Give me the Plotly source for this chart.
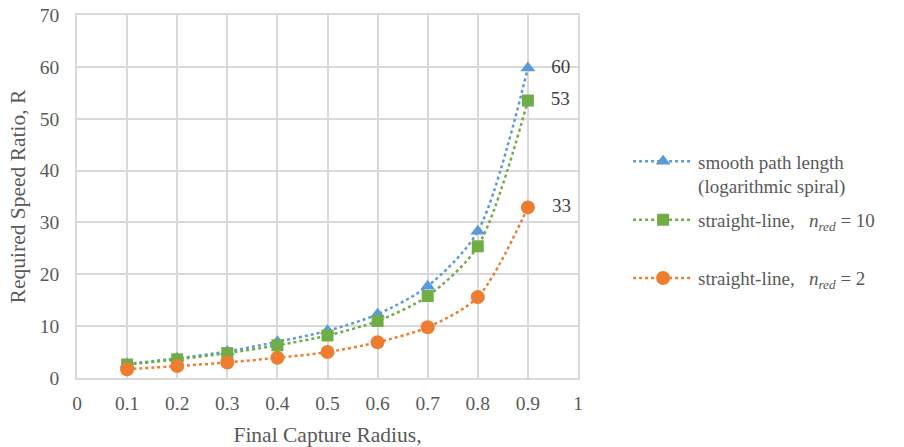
import plotly.graph_objects as go

radius = [0.1, 0.2, 0.3, 0.4, 0.5, 0.6, 0.7, 0.8, 0.9]
smooth_spiral = [2.7, 3.8, 5.1, 7.0, 9.1, 12.3, 17.7, 28.3, 59.8]
straight_n10 = [2.6, 3.6, 4.8, 6.3, 8.2, 11.0, 15.8, 25.4, 53.5]
straight_n2 = [1.7, 2.3, 3.0, 3.9, 5.0, 6.9, 9.8, 15.6, 32.9]
end_labels = ["60", "53", "33"]
x_ticks = [0, 0.1, 0.2, 0.3, 0.4, 0.5, 0.6, 0.7, 0.8, 0.9, 1]
x_tick_text = ["0", "0.1", "0.2", "0.3", "0.4", "0.5", "0.6", "0.7", "0.8", "0.9", "1"]

names = [
    "smooth path length<br>(logarithmic spiral)",
    "straight-line,   <i>n</i><sub><i>red</i></sub> = 10<br> ",
    "straight-line,   <i>n</i><sub><i>red</i></sub> = 2",
]
colors = ["#5b9bd5", "#70ad47", "#ed7d31"]
symbols = ["triangle-up", "square", "circle"]
sizes = [13, 12, 14]
series = [smooth_spiral, straight_n10, straight_n2]

SERIF = "Liberation Serif"
GREY = "#595959"

fig = go.Figure()
for i, (name, ys, col, sym, sz, lab) in enumerate(zip(names, series, colors, symbols, sizes, end_labels)):
    txt = [""] * (len(ys) - 1) + ["   " + lab]
    fig.add_trace(go.Scatter(
        x=radius, y=ys, name=name, mode="lines+markers+text",
        legendgroup=f"g{i}",
        line=dict(color=col, width=2.5, dash="dot", shape="spline", smoothing=0.8),
        marker=dict(color=col, symbol=sym, size=sz),
        text=txt, textposition="middle right",
        textfont=dict(family=SERIF, size=19, color="#404040"),
    ))

axis_common = dict(
    showgrid=True, gridcolor="#d9d9d9", gridwidth=1.5,
    zeroline=False, showline=True, linecolor="#d9d9d9", linewidth=1.5, mirror=True,
    tickfont=dict(family=SERIF, size=19.5, color=GREY),
    ticks="", automargin=False,
)
fig.update_xaxes(range=[0, 1], tickvals=x_ticks, ticktext=x_tick_text, ticklabelstandoff=7,
                 title=dict(text="Final Capture Radius,", font=dict(family=SERIF, size=21.5, color=GREY), standoff=14),
                 **axis_common)
fig.update_yaxes(range=[0, 70], dtick=10, ticklabelstandoff=12,
                 title=dict(text="Required Speed Ratio, R", font=dict(family=SERIF, size=21.5, color=GREY), standoff=8),
                 **axis_common)
fig.update_layout(
    width=904, height=447,
    margin=dict(l=77, r=326, t=15, b=69, autoexpand=False),
    plot_bgcolor="white", paper_bgcolor="white",
    font=dict(family=SERIF, color=GREY),
    legend=dict(x=1.1, y=0.649, xanchor="left", yanchor="top", valign="top",
                font=dict(family=SERIF, size=19, color=GREY),
                tracegroupgap=6, itemwidth=60),
    showlegend=True,
)
fig.write_html("out.html")
